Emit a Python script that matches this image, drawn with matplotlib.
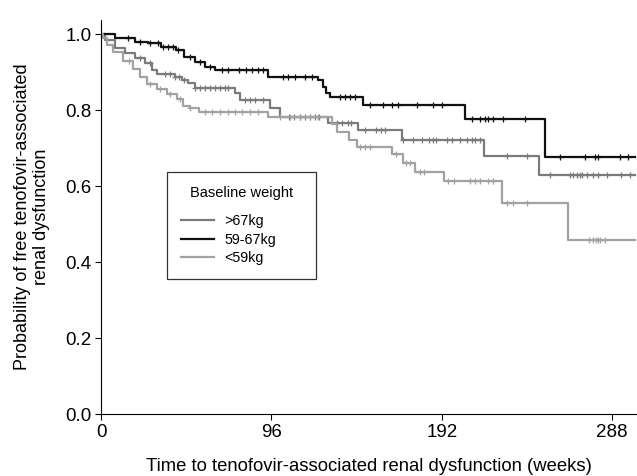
import numpy as np
import matplotlib
matplotlib.use('Agg')
import matplotlib.pyplot as plt

plt.rcParams['font.family'] = ['Liberation Sans', 'DejaVu Sans']

# Kaplan-Meier step data (weeks, survival)
weeks_mid = [0, 7.9, 19, 26.5, 34, 42, 47, 53, 58.5, 64, 94, 122, 125, 127, 129, 131, 147.5, 205, 250, 301]
surv_mid = [1.0, 0.989, 0.979, 0.976, 0.966, 0.958, 0.939, 0.926, 0.913, 0.905, 0.887, 0.879, 0.861,
            0.845, 0.834, 0.834, 0.813, 0.776, 0.676, 0.676]

weeks_high = [0, 2.3, 7.9, 13.5, 19.1, 24.8, 28.7, 31.5, 41.7, 45.6, 49, 52.9, 75.5, 78.3, 95.2, 100.8,
              127.8, 144.7, 169.5, 216, 247, 301]
surv_high = [1.0, 0.984, 0.963, 0.950, 0.937, 0.924, 0.905, 0.895, 0.887, 0.879, 0.871, 0.858, 0.845,
             0.826, 0.805, 0.782, 0.766, 0.747, 0.721, 0.679, 0.629, 0.629]

weeks_low = [0, 1, 3.4, 7, 12.4, 18, 22, 26, 31.5, 37, 42.8, 46, 50, 55, 94, 130, 133, 140, 144, 164,
             170, 177, 193, 226, 263, 301]
surv_low = [1.0, 0.99, 0.971, 0.953, 0.929, 0.908, 0.887, 0.868, 0.855, 0.842, 0.829, 0.811, 0.805,
            0.795, 0.782, 0.763, 0.742, 0.721, 0.703, 0.684, 0.66, 0.637, 0.613, 0.555, 0.458, 0.458]

# censored observations (weeks)
cens_mid = [15.2, 22, 27.6, 32, 35, 37.7, 40.5, 43.4, 50, 55.7, 61.5, 68, 71.5, 78, 81.7, 85, 88.5, 91.2,
            102.5, 105.3, 109.2, 114.8, 118.8, 134.6, 137.4, 140.2, 143, 151.5, 158.8, 163.9, 167.2, 178,
            187, 192, 209, 213.4, 216.2, 217.9, 220.7, 226.4, 238.7, 258.5, 272.5, 278.2, 279.9, 292.3, 296.8]
cens_high = [22, 27.6, 36, 39, 41.7, 44, 47, 53, 55.7, 58.5, 61.5, 64, 67, 70, 71.5, 81, 84, 87, 91,
             106, 109, 112, 115, 118, 120.5, 123, 133, 136, 139, 141, 149, 155, 158, 160, 170, 176, 181,
             185, 187, 189, 195, 198, 202, 206, 209, 210.5, 213.4, 229, 240, 253, 264, 266, 268, 270, 271,
             274, 277, 280, 285, 293, 298]
cens_low = [16, 27.6, 33, 39, 44.5, 50, 58.5, 62.5, 67, 71.5, 75.5, 79.5, 84, 88.5, 101, 106.5, 112, 118,
            122, 146, 149, 151.5, 166, 172, 174, 179.5, 182, 195.5, 199, 208, 210.5, 213.4, 217.9, 220.7,
            229, 232, 240, 275, 277, 279, 280, 281, 284]

labels = ['>67kg', '59-67kg', '<59kg']
colors = ['#7b7b7b', '#111111', '#a2a2a2']


def surv_at(t, weeks, surv):
    idx = np.searchsorted(weeks, t, side='right') - 1
    return np.asarray(surv)[idx]


def main():
    fig = plt.figure(figsize=(6.37, 4.76), dpi=100)
    ax = fig.add_axes([0.1586, 0.130, 0.8414, 0.828])

    groups = [(weeks_high, surv_high, cens_high), (weeks_mid, surv_mid, cens_mid),
              (weeks_low, surv_low, cens_low)]
    for (w, s, c), lab, col in zip(groups, labels, colors):
        ax.step(w, s, where='post', color=col, lw=1.6, label=lab)
        ax.plot(c, surv_at(c, w, s), ls='none', marker='+', ms=5, mew=0.9, color=col)

    ax.set_xlim(0, 302)
    ax.set_ylim(0, 1.037)
    ax.set_xticks([0, 96, 192, 288])
    ax.set_yticks([0.0, 0.2, 0.4, 0.6, 0.8, 1.0])
    ax.set_yticklabels(['0.0', '0.2', '0.4', '0.6', '0.8', '1.0'])
    ax.tick_params(labelsize=13.5, length=4, width=0.8, direction='out', pad=3)
    for side in ['top', 'right']:
        ax.spines[side].set_visible(False)
    ax.spines['left'].set_linewidth(0.8)
    ax.spines['bottom'].set_linewidth(0.8)

    ax.set_xlabel('Time to tenofovir-associated renal dysfunction (weeks)', fontsize=13.3, labelpad=12)
    ax.set_ylabel('Probability of free tenofovir-associated\nrenal dysfunction', fontsize=13,
                  labelpad=11, linespacing=1.15)

    leg = ax.legend(title='Baseline weight', loc='upper left', bbox_to_anchor=(0.123, 0.36, 0.278, 0.254),
                    mode='expand', fontsize=10.3, title_fontsize=10.5, frameon=True, fancybox=False,
                    edgecolor='black', handlelength=2.3, handletextpad=0.7, borderpad=1.0,
                    labelspacing=0.3, borderaxespad=0)
    leg.get_frame().set_linewidth(0.9)
    leg._legend_box.sep = 10

    fig.savefig('out.png', dpi=100)


if __name__ == "__main__":
    main()
